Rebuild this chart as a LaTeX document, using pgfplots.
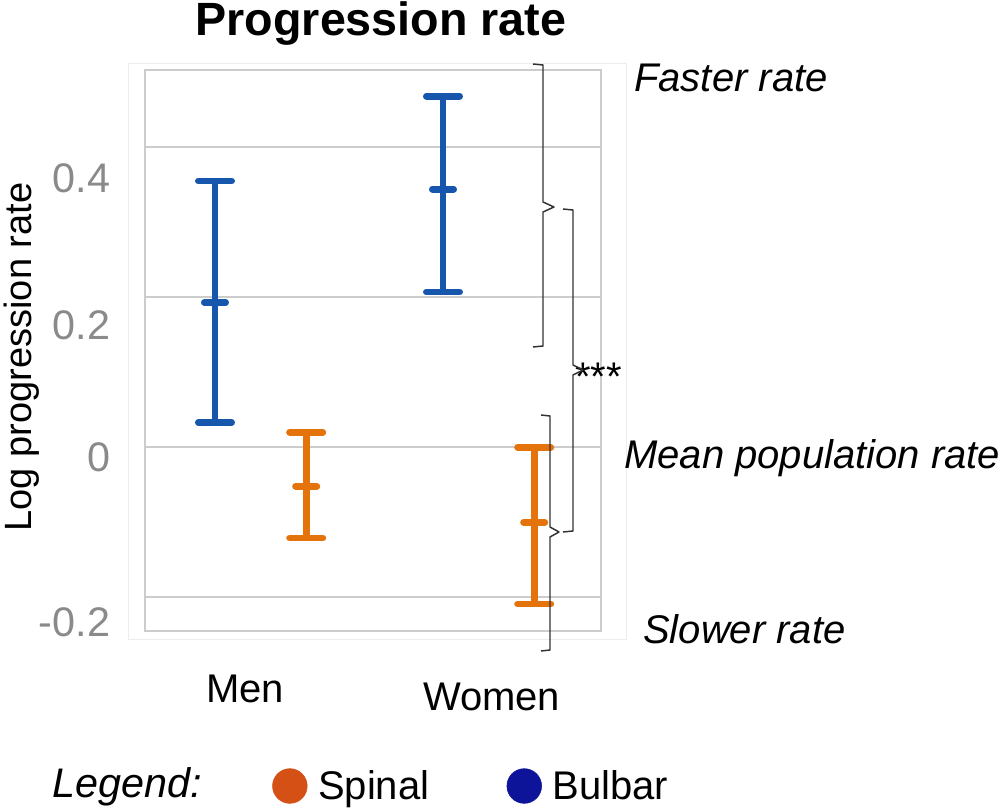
\documentclass[border=0pt]{standalone}
\usepackage{fontspec}
\setmainfont{Liberation Sans}
\usepackage{pgfplots}
\pgfplotsset{compat=1.18}
\definecolor{bulbar}{RGB}{22,86,172}
\definecolor{spinal}{RGB}{228,115,12}
\definecolor{legspinal}{RGB}{213,80,21}
\definecolor{legbulbar}{RGB}{14,20,153}
\definecolor{gridgray}{RGB}{204,204,204}
\definecolor{ticgray}{RGB}{138,138,138}
\definecolor{bracegray}{RGB}{50,50,50}
\begin{document}
\begin{tikzpicture}
\useasboundingbox (0,0) rectangle (754.5pt,605.25pt);
\begin{axis}[
  at={(108.75pt,132pt)}, anchor=south west,
  scale only axis, width=342pt, height=420.75pt,
  xmin=0.493, xmax=2.493, ymin=-0.245, ymax=0.503,
  axis line style={draw=gridgray, line width=2.2pt},
  xtick={0.932,2.013}, xticklabels={Men,{\raisebox{-6pt}[\height][\depth]{Women}}},
  major tick length=0pt,
  xticklabel style={inner sep=0pt, yshift=-33pt, font=\fontsize{30}{36}\selectfont},
  ytick={0.359,0.163,-0.013,-0.233}, yticklabels={0.4,0.2,0,-0.2},
  yticklabel style={inner sep=0pt, xshift=-26pt, text=ticgray, font=\fontsize{31}{37}\selectfont},
  extra y ticks={-0.2,0,0.2,0.4}, extra y tick labels={},
  extra y tick style={grid=major, major tick length=0pt},
  grid style={draw=gridgray, line width=1.6pt},
  clip=false,
  legend style={at={(0.2785,-0.2763)}, anchor=west, draw=none, fill=none, inner sep=0pt,
    font=\fontsize{30}{36}\selectfont, legend columns=2,
    /tikz/every odd column/.append style={column sep=6pt},
    /tikz/every even column/.append style={column sep=56pt},
    /tikz/column 3/.append style={column sep=2pt}},
  legend cell align=left,
]
% Bulbar: mean with asymmetric error bars
\addplot[forget plot, color=bulbar, only marks, mark=-, mark size=8pt,
  mark options={line width=5pt, line cap=round},
  error bars/.cd, y dir=both, y explicit,
  error bar style={line width=5pt, color=bulbar},
  error mark options={rotate=90, line width=5pt, mark size=12.5pt, line cap=round, color=bulbar}]
  coordinates {
  (0.8,0.193) += (0,0.162) -= (0,0.160)
  (1.8,0.344) += (0,0.124) -= (0,0.137)
  };
% Spinal
\addplot[forget plot, color=spinal, only marks, mark=-, mark size=8pt,
  mark options={line width=5pt, line cap=round},
  error bars/.cd, y dir=both, y explicit,
  error bar style={line width=5pt, color=spinal},
  error mark options={rotate=90, line width=5pt, mark size=12.5pt, line cap=round, color=spinal}]
  coordinates {
  (1.2,-0.052) += (0,0.072) -= (0,0.069)
  (2.2,-0.100) += (0,0.100) -= (0,0.109)
  };
\addlegendimage{legend image code/.code={\fill[legspinal] (0pt,0pt) circle[radius=13pt];}}
\addlegendentry{Spinal}
\addlegendimage{legend image code/.code={\fill[legbulbar] (0pt,0pt) circle[radius=13pt];}}
\addlegendentry{Bulbar}
\end{axis}
\begin{scope}[x=0.75pt, y=-0.75pt, shift={(0pt,605.25pt)}]
  \draw[draw=black!7, line width=0.75pt] (128,64) rectangle (626,639);
  \node[anchor=base, font=\bfseries\fontsize{35}{42}\selectfont] at (381,36) {Progression rate};
  \node[rotate=90, font=\fontsize{28.5}{34}\selectfont] at (22,357) {Log progression rate};
  \node[anchor=base west, inner sep=0pt, font=\itshape\fontsize{30}{36}\selectfont] at (634,92) {Faster rate};
  \node[anchor=base west, inner sep=0pt, font=\itshape\fontsize{30}{36}\selectfont] at (624,469) {Mean population rate};
  \node[anchor=base west, inner sep=0pt, font=\itshape\fontsize{30}{36}\selectfont] at (643,643) {Slower rate};
  \node[anchor=base west, inner sep=0pt, font=\fontsize{30}{36}\selectfont] at (575,391) {***};
  \node[anchor=base west, inner sep=0pt, font=\itshape\fontsize{31}{37}\selectfont] at (52,797) {Legend:};
  \draw[bracegray, line width=1.1pt, line join=round]
    (533,64) -- (543,65) -- (543,202) -- (554,207) -- (543,212) -- (543,346) -- (533,347);
  \draw[bracegray, line width=1.1pt, line join=round]
    (563,209) -- (573,210) -- (573,365) -- (583,370) -- (573,375) -- (573,531) -- (563,532);
  \draw[bracegray, line width=1.1pt, line join=round]
    (541,415) -- (550,416) -- (550,527) -- (559,532) -- (550,537) -- (550,650) -- (541,651);
\end{scope}
\end{tikzpicture}
\end{document}
